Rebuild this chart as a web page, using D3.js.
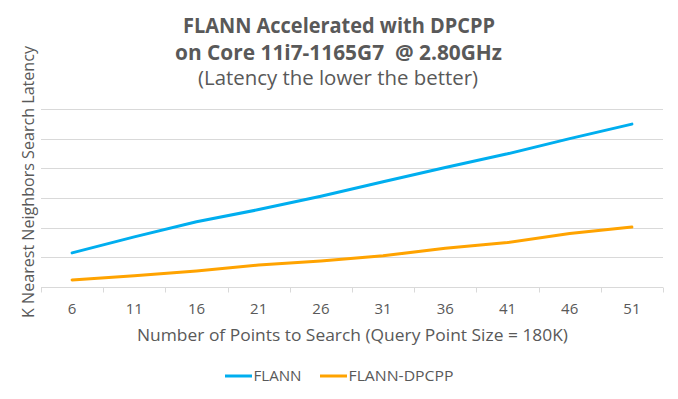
<!DOCTYPE html>
<html>
<head>
<meta charset="utf-8">
<script src="https://cdn.jsdelivr.net/npm/d3@7"></script>
<style>
  html, body { margin: 0; padding: 0; background: #fff; }
  svg text { font-family: "Open Sans", "Noto Sans", sans-serif; fill: #595959; white-space: pre; }
</style>
</head>
<body>
<div id="chart"></div>
<script>
'use strict';

// Data (latency in arbitrary gridline units)
const categories = ['6', '11', '16', '21', '26', '31', '36', '41', '46', '51'];
const flann = [1.15, 1.69, 2.2, 2.61, 3.06, 3.55, 4.03, 4.49, 5.0, 5.49];
const flannDpcpp = [0.24, 0.38, 0.54, 0.74, 0.88, 1.05, 1.31, 1.5, 1.8, 2.02];
const yTicks = [0, 1, 2, 3, 4, 5, 6];
const seriesNames = ['FLANN', 'FLANN-DPCPP'];
const seriesColors = ['#00AEEF', '#FFA300'];

const W = 678, H = 399;
const margin = { top: 109, right: 15, bottom: 112, left: 41 };

const svg = d3.select('#chart').append('svg')
    .attr('width', W).attr('height', H);

const x = d3.scaleBand().domain(categories).range([margin.left, W - margin.right]);
const y = d3.scaleLinear().domain([0, 6]).range([H - margin.bottom, margin.top]);

// Gridlines
svg.append('g').selectAll('line')
    .data(yTicks)
    .join('line')
    .attr('x1', margin.left).attr('x2', W - margin.right)
    .attr('y1', d => Math.round(y(d)) + 0.5).attr('y2', d => Math.round(y(d)) + 0.5)
    .attr('stroke', '#D9D9D9').attr('stroke-width', 1);

// Category axis: ticks sit on band boundaries
const bounds = categories.map(c => x(c)).concat([x.range()[1]]);
const base = Math.round(y(0)) + 0.5;
svg.append('g').selectAll('line')
    .data(bounds)
    .join('line')
    .attr('x1', d => Math.round(d) + 0.5).attr('x2', d => Math.round(d) + 0.5)
    .attr('y1', base).attr('y2', base + 5)
    .attr('stroke', '#D9D9D9');

svg.append('g').selectAll('text')
    .data(categories)
    .join('text')
    .attr('x', d => x(d) + x.bandwidth() / 2)
    .attr('y', 314)
    .attr('text-anchor', 'middle')
    .attr('font-size', 15)
    .text(d => d);

// Lines
const line = d3.line()
    .x((d, i) => x(categories[i]) + x.bandwidth() / 2)
    .y(d => y(d));

[flann, flannDpcpp].forEach((s, i) => {
    svg.append('path')
        .datum(s)
        .attr('d', line)
        .attr('fill', 'none')
        .attr('stroke', seriesColors[i])
        .attr('stroke-width', 3)
        .attr('stroke-linecap', 'round')
        .attr('stroke-linejoin', 'round');
});

// helper: text stretched to the width seen in the reference
function label(x0, y0, len, size, weight, str) {
    return svg.append('text')
        .attr('x', x0).attr('y', y0)
        .attr('font-size', size).attr('font-weight', weight)
        .attr('textLength', len).attr('lengthAdjust', 'spacingAndGlyphs')
        .text(str);
}

// Titles
label(183, 33, 312, 20.5, 'bold', 'FLANN Accelerated with DPCPP');
label(175, 59.5, 327, 20.5, 'bold', 'on Core 11i7-1165G7  @ 2.80GHz');
label(198, 85, 280, 19.5, 'normal', '(Latency the lower the better)');

// Axis titles
label(137, 341, 431, 16.5, 'normal', 'Number of Points to Search (Query Point Size = 180K)');
svg.append('text')
    .attr('transform', 'translate(33.5, 318) rotate(-90)')
    .attr('font-size', 16.5)
    .attr('textLength', 272).attr('lengthAdjust', 'spacingAndGlyphs')
    .text('K Nearest Neighbors Search Latency');

// Legend
const legendX = [225, 320];
const legendLen = [48, 105];
seriesNames.forEach((name, i) => {
    svg.append('line')
        .attr('x1', legendX[i]).attr('x2', legendX[i] + 27)
        .attr('y1', 376).attr('y2', 376)
        .attr('stroke', seriesColors[i]).attr('stroke-width', 3);
    label(legendX[i] + 28.5, 381, legendLen[i], 15, 'normal', name);
});
</script>
</body>
</html>
